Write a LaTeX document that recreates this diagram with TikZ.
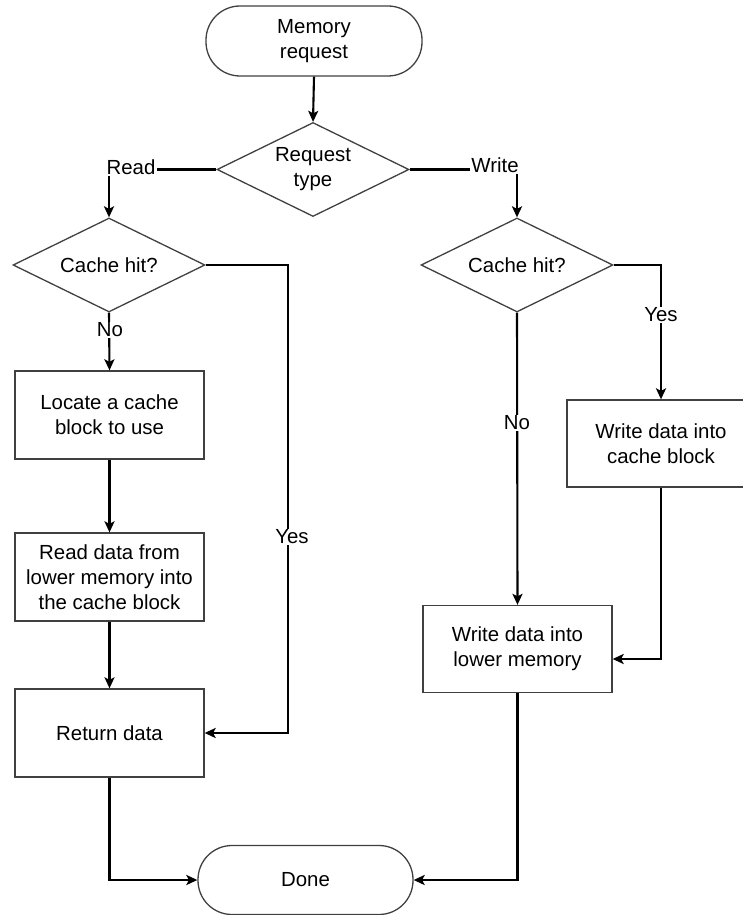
\documentclass[tikz,border=0pt]{standalone}
\usepackage{fontspec}
\setmainfont{Liberation Sans}
\usetikzlibrary{shapes.geometric,arrows.meta}
\begin{document}
\begin{tikzpicture}[x=1pt,y=-1pt,
  every node/.style={font=\fontsize{20.4}{25}\selectfont, align=center, text=black},
  shapeline/.style={draw=black!75, line width=1.3pt},
  terminal/.style={shapeline, rectangle, rounded corners=34pt, minimum width=216pt, minimum height=70pt},
  decision/.style={shapeline, diamond, aspect=2, inner sep=0pt, minimum width=192pt, minimum height=94pt},
  process/.style={shapeline, rectangle, minimum width=189pt, minimum height=88pt},
  link/.style={line width=2.1pt},
  flow/.style={link, -{Stealth[length=11pt,width=10pt,inset=2.5pt]}},
  tag/.style={fill=white, inner sep=1pt}]
\useasboundingbox (0,0) rectangle (743,915);

% shapes
\node[terminal] (start) at (314,41) {Memory\\request};
\node[decision] (rt) at (313,169.5) {Request\\type};
\node[decision] (c1) at (109,265) {Cache hit?};
\node[decision] (c2) at (517,265) {Cache hit?};
\node[process] (loc) at (109.5,415) {Locate a cache\\block to use};
\node[process] (rd) at (109.5,577) {Read data from\\lower memory into\\the cache block};
\node[process] (ret) at (109.5,733) {Return data};
\node[process, minimum width=188pt, minimum height=87pt] (wc) at (661,443.5) {Write data into\\cache block};
\node[process, minimum width=189pt, minimum height=87pt] (wl) at (517.5,649) {Write data into\\lower memory};
\node[terminal, minimum width=215pt, minimum height=69pt] (done) at (305.5,880) {Done};

% branch labels of the request type
\node[tag] (lread) at (131,167) {Read};
\node[tag] (lwrite) at (495,165) {Write};

% connectors
\draw[flow] (start.south) -- (rt.north);
\draw[link] (rt.west) -- (rt.west -| lread.east);
\draw[flow] (lread.south -| c1.north) -- (c1.north);
\draw[link] (rt.east) -- (rt.east -| lwrite.west);
\draw[flow] (lwrite.south -| c2.north) -- (c2.north);

\draw[flow] (c1.south) -- (loc.north);
\draw[flow] (loc.south) -- (rd.north);
\draw[flow] (rd.south) -- (ret.north);
\draw[flow] (c1.east) -- ++(82,0) |- (ret.east);
\draw[flow] (ret.south) |- (done.west);

\draw[flow] (c2.east) -| (wc.north);
\draw[flow] (wc.south) |- ([yshift=-10pt]wl.east);
\draw[flow] (c2.south) -- (wl.north);
\draw[flow] (wl.south) |- (done.east);

% yes / no labels over the lines
\node[tag] (lno1) at (110,330) {No};
\node[tag] (lyes1) at (292,537) {Yes};
\node[tag] (lyes2) at (661,315) {Yes};
\node[tag] (lno2) at (517,423) {No};
\end{tikzpicture}
\end{document}
